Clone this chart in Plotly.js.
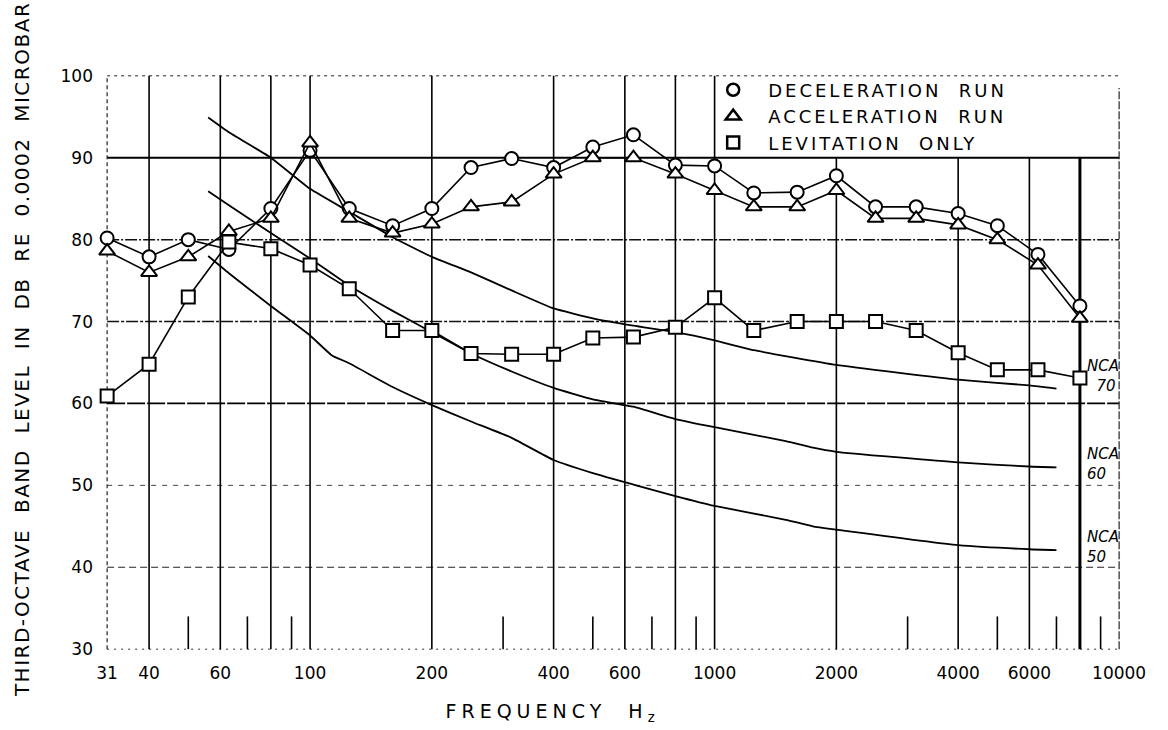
<!DOCTYPE html>
<html>
<head>
<meta charset="utf-8">
<script src="https://cdn.plot.ly/plotly-3.0.1.min.js"></script>
<style>
html,body{margin:0;padding:0;background:#fff;}
#chart{width:1168px;height:730px;}
.legendtext{letter-spacing:3px;}
g.annotation[data-index="3"] text{letter-spacing:5px;}
g.annotation[data-index="4"] text{letter-spacing:1.5px;}
</style>
</head>
<body>
<div id="chart"></div>
<script>
// Third-octave band centre frequencies (Hz)
const bandFreqs = [31.5,40,50,63,80,100,125,160,200,250,315,400,500,630,800,1000,1250,1600,2000,2500,3150,4000,5000,6300,8000];
// Measured levels (dB re 0.0002 microbar)
const deceleration = [80.2,77.9,80.0,78.8,83.8,90.9,83.8,81.7,83.8,88.8,89.9,88.8,91.3,92.8,89.1,89.0,85.7,85.8,87.8,84.0,84.0,83.2,81.7,78.2,71.9];
const acceleration = [78.6,76.0,77.9,81.0,82.6,91.8,82.6,80.8,81.9,84.0,84.6,88.0,90.0,90.0,88.0,86.0,84.0,84.0,86.0,82.6,82.6,81.8,80.0,76.9,70.4];
const levitation   = [60.9,64.8,73.0,79.7,78.9,76.9,74.0,68.9,68.9,66.1,66.0,66.0,68.0,68.1,69.3,72.9,68.9,70.0,70.0,70.0,68.9,66.2,64.1,64.1,63.1];

// NCA criterion curves
const nca70Freqs = [56,63,80,100,125,160,200,250,315,400,500,630,800,1000,1250,2000,4000,6000,7000];
const nca70 =      [94.9,93.1,90.0,86.2,83.4,80.3,77.9,76.0,73.8,71.6,70.4,69.5,68.7,67.7,66.5,64.7,62.9,62.2,61.8];
const nca60Freqs = [56,63,80,100,125,160,200,250,315,400,500,630,800,1000,1500,1750,2000,4000,6000,7000];
const nca60 =      [85.9,84.2,80.8,77.7,74.4,71.3,68.7,66.1,63.9,61.9,60.5,59.6,58.1,57.1,55.4,54.6,54.1,52.8,52.3,52.2];
const nca50Freqs = [56,63,80,100,113,125,160,200,250,315,400,500,630,800,1000,1500,1750,2000,4000,6000,7000];
const nca50 =      [78.0,75.9,71.9,68.3,65.9,64.9,62.0,59.8,57.8,55.8,53.1,51.5,50.1,48.7,47.5,45.8,45.0,44.6,42.7,42.2,42.1];

// Axis ticks and grid
const xTickVals = [31.5,40,60,100,200,400,600,1000,2000,4000,6000,10000];
const xTickText = ['31','40','60','100','200','400','600','1000','2000','4000','6000','10000'];
const yTickVals = [30,40,50,60,70,80,90,100];
const gridFullFreqs = [40,60,80,100,200,400,600,800,1000];
const gridShortFreqs = [2000,4000,6000];
const gridHeavyFreqs = [8000];
const minorTickFreqs = [50,70,90,300,500,700,900,3000,5000,7000,9000];
const legendNames = ['DECELERATION  RUN','ACCELERATION  RUN','LEVITATION  ONLY'];
const ncaLabels = ['NCA<br>  70','NCA<br>60','NCA<br>50'];
const ncaLabelLevels = [63.4,52.6,42.5];

const XMIN = 31.5, XMAX = 10000, YMIN = 30, YMAX = 100;

function vSegs(xs, y0, y1){
  const x=[], y=[];
  xs.forEach(v=>{x.push(v,v,null); y.push(y0,y1,null);});
  return {x,y};
}
function gridTrace(seg, width, dash, color){
  return {x:seg.x, y:seg.y, mode:'lines', type:'scatter', hoverinfo:'skip', showlegend:false,
    line:{color:color||'#000', width:width, dash:dash||'solid'}};
}
function hLine(v, width, dash, color){
  return {x:[XMIN,XMAX], y:[v,v], mode:'lines', type:'scatter', hoverinfo:'skip', showlegend:false,
    line:{color:color||'#000', width:width, dash:dash||'solid'}};
}

const traces = [];
// horizontal grid
traces.push(hLine(100,1,'3px,4px','#222'));
traces.push(hLine(90,2,'solid','#000'));
traces.push(hLine(80,1.5,'12px,2px,2px,2px','#111'));
traces.push(hLine(70,1.5,'12px,2px,3px,2px','#111'));
traces.push(hLine(60,1.7,'18px,2px','#000'));
traces.push(hLine(50,1,'5px,6px','#444'));
traces.push(hLine(40,1.2,'7px,4px','#222'));
traces.push(hLine(30,1,'2px,5px','#333'));
// borders left / right
traces.push(gridTrace(vSegs([XMIN],30,100),1.2,'4px,3px','#222'));
traces.push(gridTrace(vSegs([XMAX],30,98.5),1.2,'8px,2px','#222'));
// vertical grid
traces.push(gridTrace(vSegs(gridFullFreqs,30,100),1.6));
traces.push(gridTrace(vSegs(gridShortFreqs,30,90),1.6));
traces.push(gridTrace(vSegs(gridHeavyFreqs,30,90),3));
traces.push(gridTrace(vSegs(minorTickFreqs,30,34),1.6));

// NCA curves
[[nca70Freqs,nca70],[nca60Freqs,nca60],[nca50Freqs,nca50]].forEach(([f,v])=>{
  traces.push({x:f, y:v, mode:'lines', type:'scatter', hoverinfo:'skip', showlegend:false,
    line:{color:'#000', width:1.8, shape:'spline', smoothing:0.4}});
});

const symbols = ['circle','triangle-up','square'];
const seriesVals = [deceleration, acceleration, levitation];
seriesVals.forEach((vals,i)=>{
  traces.push({x:bandFreqs, y:vals, name:legendNames[i], mode:'lines+markers', type:'scatter', showlegend:false,
    cliponaxis:false,
    line:{color:'#000', width:1.6},
    marker:{symbol:symbols[i], size:(i===1?14:13), color:'#fff', line:{color:'#000', width:2}}});
});
// legend entries (marker only)
seriesVals.forEach((vals,i)=>{
  traces.push({x:[null], y:[null], name:legendNames[i], mode:'markers', type:'scatter', showlegend:true,
    marker:{symbol:symbols[i], size:(i===1?13:12), color:'#fff', line:{color:'#000', width:2.5}}});
});

const annotations = [];
ncaLabels.forEach((t,i)=>{
  annotations.push({xref:'x', yref:'y', x:Math.log10(8250), y:ncaLabelLevels[i], text:t, showarrow:false,
    xanchor:'left', yanchor:'middle', align:'left',
    font:{family:'DejaVu Sans', size:15, style:'italic', color:'#000'}});
});
annotations.push({xref:'paper', yref:'paper', x:0.44, y:0, yshift:-62, text:'FREQUENCY  H<sub>z</sub>', showarrow:false,
  xanchor:'center', yanchor:'middle', font:{family:'DejaVu Sans', size:19, color:'#000'}});
annotations.push({xref:'paper', yref:'paper', x:0, xshift:-84, y:0.522, text:'THIRD-OCTAVE  BAND  LEVEL  IN  DB  RE  0.0002  MICROBAR',
  showarrow:false, textangle:-90, xanchor:'center', yanchor:'middle', font:{family:'DejaVu Sans', size:20, color:'#000'}});

const layout = {
  width:1168, height:730,
  margin:{l:106, r:48, t:75, b:80},
  paper_bgcolor:'#fff', plot_bgcolor:'#fff',
  font:{family:'DejaVu Sans', color:'#000'},
  xaxis:{type:'log', range:[Math.log10(31.3), Math.log10(10050)], showgrid:false, zeroline:false, showline:false,
    tickmode:'array', tickvals:xTickVals, ticktext:xTickText, ticks:'', ticklabelstandoff:11,
    tickfont:{family:'DejaVu Sans', size:17, color:'#000'}},
  yaxis:{range:[29.9,100.1], showgrid:false, zeroline:false, showline:false,
    tickmode:'array', tickvals:yTickVals, ticks:'', ticklabelstandoff:12,
    tickfont:{family:'DejaVu Sans', size:17, color:'#000'}},
  legend:{x:0.584, y:1.006, xanchor:'left', yanchor:'top', bgcolor:'rgba(0,0,0,0)', borderwidth:0,
    font:{family:'DejaVu Sans', size:18, color:'#000'}, itemwidth:60, tracegroupgap:0},
  annotations:annotations,
  showlegend:true
};

Plotly.newPlot('chart', traces, layout, {staticPlot:true, displayModeBar:false});
</script>
</body>
</html>
